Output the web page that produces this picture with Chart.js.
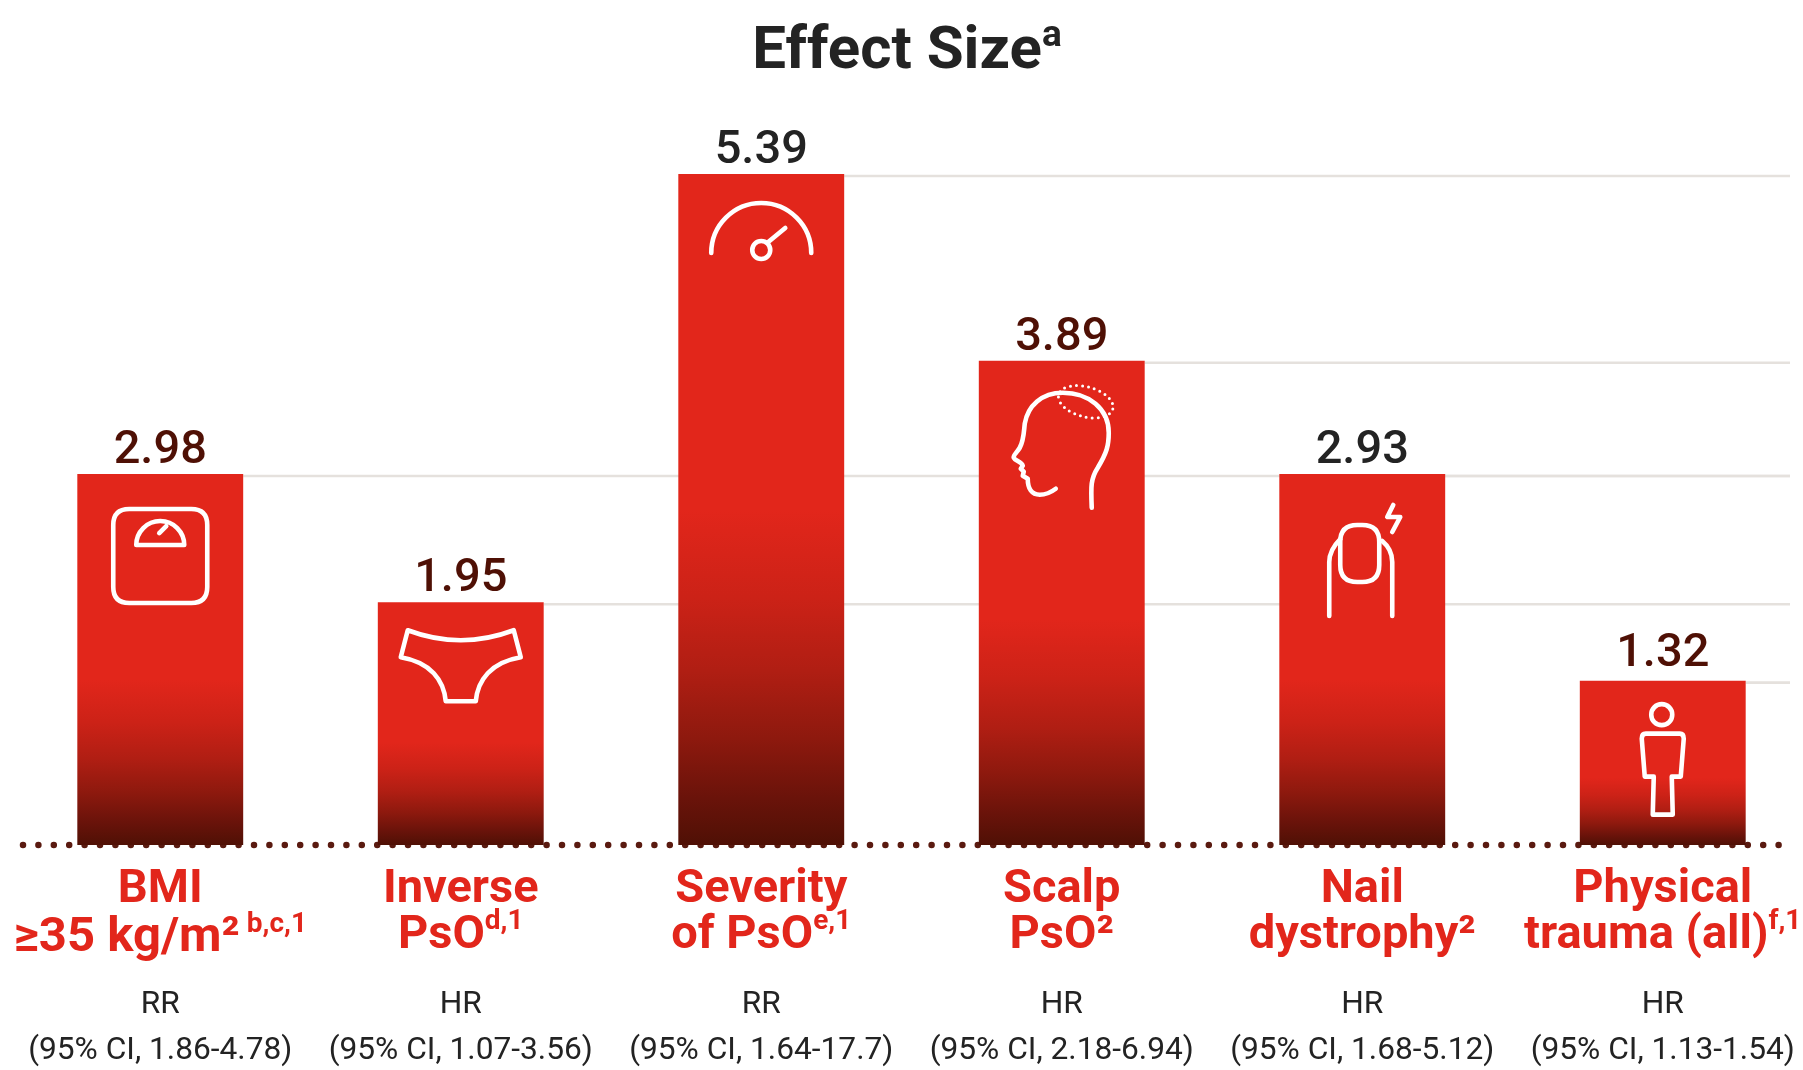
<!DOCTYPE html>
<html>
<head>
<meta charset="utf-8">
<title>Effect Size</title>
<script src="https://cdn.jsdelivr.net/npm/chart.js@4"></script>
<style>
  html, body { margin: 0; padding: 0; background: #fff; overflow: hidden; }
  #wrap { width: 1803px; height: 1070px; overflow: hidden; }
  canvas { display: block; }
</style>
</head>
<body>
<div id="wrap"><canvas id="effectChart" width="1830" height="1070"></canvas></div>
<script>
// Values printed over the bars
const valueLabels = ['2.98', '1.95', '5.39', '3.89', '2.93', '1.32'];
// Bar heights as drawn: the nail bar sits level with the 2.98 bar in the picture, not at 2.93
const barHeights = [2.98, 1.95, 5.39, 3.89, 2.98, 1.32];
const categoryIds = ['BMI', 'Inverse PsO', 'Severity of PsO', 'Scalp PsO', 'Nail dystrophy', 'Physical trauma'];
const labelFirstLines = ['BMI', 'Inverse', 'Severity', 'Scalp', 'Nail', 'Physical'];
const labelSecondLines = ['≥35 kg/m²', 'PsO', 'of PsO', 'PsO²', 'dystrophy²', 'trauma (all)'];
const labelSups = [' b,c,1', 'd,1', 'e,1', '', '', 'f,1'];
const measures = ['RR', 'HR', 'RR', 'HR', 'HR', 'HR'];
const intervals = [
    '(95% CI, 1.86-4.78)', '(95% CI, 1.07-3.56)', '(95% CI, 1.64-17.7)',
    '(95% CI, 2.18-6.94)', '(95% CI, 1.68-5.12)', '(95% CI, 1.13-1.54)'
];

const RED = '#E2261B';
const DARK = '#4F1005';
const INK = '#232323';
const valueColors = [DARK, DARK, INK, DARK, INK, DARK];
const FONT = 'Roboto, "Noto Sans", sans-serif';

// Icon outlines, origin = bar centre / bar top
const icons = [
    ['M-31 35 H31 Q47 35 47 51 V113 Q47 129 31 129 H-31 Q-47 129 -47 113 V51 Q-47 35 -31 35 Z',
     'M-24 71 A24 24 0 0 1 24 71 Z', 'M-1 59 L6 52'],
    ['M-53 28 Q0 48 53 28 L60 55 C30 60 17 78 15 99 H-15 C-17 78 -30 60 -60 55 Z'],
    ['M-50 79 A50 50 0 0 1 50 79', 'M9 76 A9 9 0 1 1 -9 76 A9 9 0 1 1 9 76', 'M7 68 L24 54'],
    ['M30 147 C29 125 29 118 36 107 C45 92 47 85 47 72 C47 48 27 32 1 32 C-20 32 -34 45 -37 63 C-38 72 -38 80 -42 87 C-45 92 -49 95 -48 97 C-47 100 -40 101 -39 105 L-41 108 L-38 111 L-39 115 L-34 118 C-34 128 -30 134 -22 134 C-15 134 -10 131 -6 128'],
    ['M-33 142 V88 C-33 78 -28 71 -22 65', 'M30 142 V88 C30 78 26 72 20 67',
     'M-5 51 H0 Q17 51 17 68 V91 Q17 108 0 108 H-5 Q-22 108 -22 91 V68 Q-22 51 -5 51 Z',
     'M31 31 L25 43 H38 L30 58'],
    ['M9.5 34 A10.5 10.5 0 1 1 -11.5 34 A10.5 10.5 0 1 1 9.5 34',
     'M-17 53 H17 Q21 53 21 58 L18 96 H9 L10 134 H-10 L-9 96 H-18 L-21 58 Q-21 53 -17 53 Z']
];

// Text with a raised small part after it, centred on x
function drawSupText(ctx, text, sup, x, y, font, supFont, color, rise) {
    ctx.font = font;
    const w1 = ctx.measureText(text).width;
    ctx.font = supFont;
    const w2 = sup ? ctx.measureText(sup).width : 0;
    const left = x - (w1 + w2) / 2;
    ctx.fillStyle = color;
    ctx.textAlign = 'left';
    ctx.textBaseline = 'alphabetic';
    ctx.font = font;
    ctx.fillText(text, left, y);
    if (sup) {
        ctx.font = supFont;
        ctx.fillText(sup, left + w1, y - rise);
    }
}

// Lines running right from each bar top, and the dotted baseline (bars cover the dots' top half)
const underPlugin = {
    id: 'under',
    beforeDatasetsDraw(chart) {
        const { ctx, scales } = chart;
        const bars = chart.getDatasetMeta(0).data;
        ctx.save();
        ctx.strokeStyle = '#E5E1DD';
        ctx.lineWidth = 2.6;
        bars.forEach((bar, i) => {
            const y = scales.y.getPixelForValue(barHeights[i]) + 2;
            ctx.beginPath();
            ctx.moveTo(bar.x + bar.width / 2, y);
            ctx.lineTo(1790, y);
            ctx.stroke();
        });
        ctx.beginPath();
        ctx.setLineDash([0, 15.4]);
        ctx.lineCap = 'round';
        ctx.lineWidth = 6.5;
        ctx.strokeStyle = '#5A1A10';
        const base = scales.y.getPixelForValue(0);
        ctx.moveTo(23, base);
        ctx.lineTo(1790, base);
        ctx.stroke();
        ctx.restore();
    }
};

const decorPlugin = {
    id: 'decor',
    afterDatasetsDraw(chart) {
        const { ctx, scales } = chart;
        const bars = chart.getDatasetMeta(0).data;
        ctx.save();

        drawSupText(ctx, 'Effect Size', 'a', 907, 68, 'bold 60px ' + FONT, 'bold 37px ' + FONT, INK, 22);

        bars.forEach((bar, i) => {
            const top = scales.y.getPixelForValue(barHeights[i]);
            const x = bar.x;

            drawSupText(ctx, valueLabels[i], '', x, i === 5 ? top - 15 : top - 11, '500 47px ' + FONT, '', valueColors[i], 0);

            // white icon
            ctx.save();
            ctx.translate(x, top);
            ctx.strokeStyle = '#fff';
            ctx.lineWidth = 4.6;
            ctx.lineCap = 'round';
            ctx.lineJoin = 'round';
            icons[i].forEach(d => ctx.stroke(new Path2D(d)));
            if (i === 3) {
                ctx.beginPath();
                ctx.setLineDash([0, 6]);
                ctx.lineWidth = 3;
                ctx.ellipse(24, 41, 28, 15, 15 * Math.PI / 180, 0, Math.PI * 2);
                ctx.stroke();
            }
            ctx.restore();

            // category text
            drawSupText(ctx, labelFirstLines[i], '', x, 902, 'bold 47px ' + FONT, '', RED, 0);
            drawSupText(ctx, labelSecondLines[i], labelSups[i], x, i === 0 ? 951 : 948,
                'bold ' + (i === 0 ? 49 : 47) + 'px ' + FONT, 'bold 28px ' + FONT, RED, 19);
            drawSupText(ctx, measures[i], '', x, 1013, '31.7px ' + FONT, '', INK, 0);
            drawSupText(ctx, intervals[i], '', x, 1059, '31.7px ' + FONT, '', INK, 0);
        });
        ctx.restore();
    }
};

// Red down to about the middle of the bar, then fading to dark brown; short bars fade later
function barGradient(context) {
    const { chart, dataIndex } = context;
    if (!chart.chartArea || dataIndex === undefined) return RED;
    const top = chart.scales.y.getPixelForValue(barHeights[dataIndex]);
    const base = chart.scales.y.getPixelForValue(0);
    const start = 0.5 + 0.12 * (1 - barHeights[dataIndex] / 5.39);
    const at = f => start + (1 - start) * f;
    const g = chart.ctx.createLinearGradient(0, top, 0, base);
    g.addColorStop(0, RED);
    g.addColorStop(start, RED);
    g.addColorStop(at(0.26), '#CC2217');
    g.addColorStop(at(0.48), '#B01E13');
    g.addColorStop(at(0.68), '#8E190E');
    g.addColorStop(at(0.86), '#6A130A');
    g.addColorStop(1, DARK);
    return g;
}

new Chart(document.getElementById('effectChart').getContext('2d'), {
    type: 'bar',
    data: {
        labels: categoryIds,
        datasets: [{
            data: barHeights,
            backgroundColor: barGradient,
            borderWidth: 0,
            categoryPercentage: 1,
            barPercentage: 0.552
        }]
    },
    options: {
        responsive: false,
        animation: false,
        layout: { padding: { left: 10, right: 17, top: 174, bottom: 225 } },
        scales: {
            x: { display: false },
            y: { display: false, min: 0, max: 5.39 }
        },
        plugins: { legend: { display: false }, tooltip: { enabled: false } }
    },
    plugins: [underPlugin, decorPlugin]
});
</script>
</body>
</html>
